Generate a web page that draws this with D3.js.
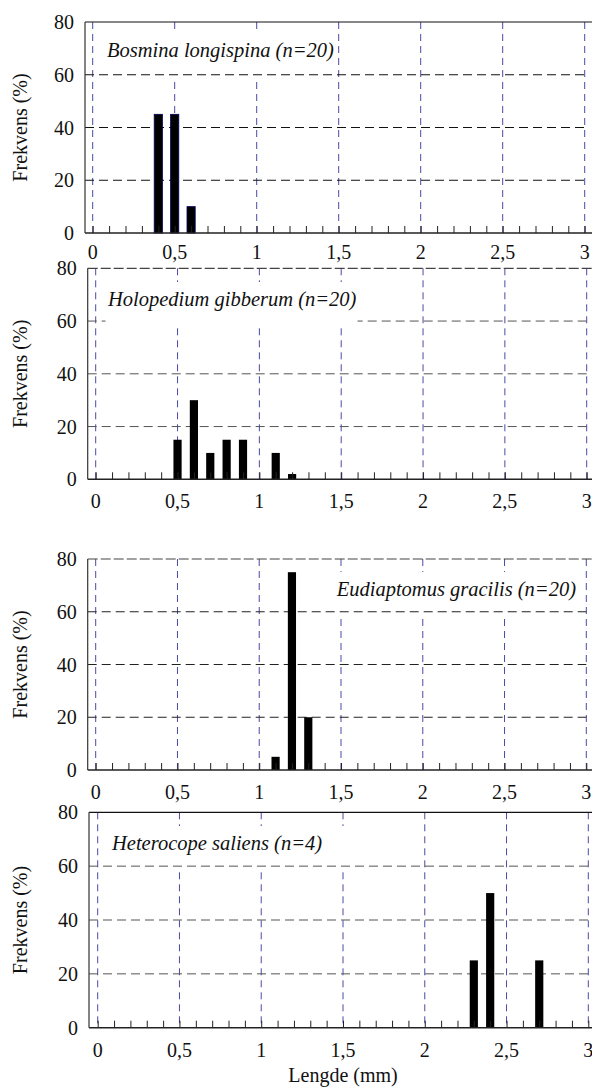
<!DOCTYPE html>
<html>
<head>
<meta charset="utf-8">
<script src="https://cdn.jsdelivr.net/npm/d3@7"></script>
</head>
<body style="margin:0">
<div id="c"></div>
<script>
// Data (length in mm, frequency in %)
const bosminaLen = [0.4, 0.5, 0.6];
const bosminaPct = [45, 45, 10];
const holopediumLen = [0.5, 0.6, 0.7, 0.8, 0.9, 1.1, 1.2];
const holopediumPct = [15, 30, 10, 15, 15, 10, 2];
const eudiaptomusLen = [1.1, 1.2, 1.3];
const eudiaptomusPct = [5, 75, 20];
const heterocopeLen = [2.3, 2.4, 2.7];
const heterocopePct = [25, 50, 25];

const titles = [
  'Bosmina longispina (n=20)',
  'Holopedium gibberum (n=20)',
  'Eudiaptomus gracilis (n=20)',
  'Heterocope saliens (n=4)'
];
const xTicks = [0, 0.5, 1, 1.5, 2, 2.5, 3];
const yTicks = [0, 20, 40, 60, 80];
const yLabel = 'Frekvens (%)';
const xLabel = 'Lengde (mm)';

// Set constants
const WIDTH = 592;
const HEIGHT = 1091;
const BAR_W = 0.05;

// Layout of the four panels (box = white area behind the title, in x units)
const panels = [
  { len: bosminaLen, pct: bosminaPct, top: 22, bottom: 233, axisX: 85, x0: 92.7, x3: 584.7,
    anchor: 'start', tx: 107, ty: 57, box: [0.06, 1.49], topDash: null, hColor: '#111', barStroke: '#000066', boxOverH: false },
  { len: holopediumLen, pct: holopediumPct, top: 268.3, bottom: 479.3, axisX: 87.7, x0: 95.7, x3: 586.7,
    anchor: 'start', tx: 108, ty: 306, box: [0.06, 1.6], topDash: '10,3', hColor: '#555', barStroke: 'none', boxOverH: true },
  { len: eudiaptomusLen, pct: eudiaptomusPct, top: 559, bottom: 770, axisX: 87.7, x0: 95.7, x3: 586.3,
    anchor: 'end', tx: 576, ty: 596, box: [1.4, 2.96], topDash: '10,3', hColor: '#222', barStroke: 'none', boxOverH: false },
  { len: heterocopeLen, pct: heterocopePct, top: 812.3, bottom: 1027.7, axisX: 89, x0: 97.7, x3: 588.3,
    anchor: 'start', tx: 112, ty: 850, box: [0.06, 1.53], topDash: null, hColor: '#555', barStroke: 'none', boxOverH: false }
];

const commaFormat = d => String(d).replace('.', ',');

const svg = d3.select('#c')
              .append('svg')
              .attr('width', WIDTH)
              .attr('height', HEIGHT)
              .attr('font-family', 'Liberation Serif, serif');

// layer for all the texts, kept at the svg root
const labels = [];

panels.forEach(function(p, i) {
  const xScale = d3.scaleLinear().domain([0, 3]).range([p.x0, p.x3]);
  const yScale = d3.scaleLinear().domain([0, 80]).range([p.bottom, p.top]);
  const g = svg.append('g');

  // vertical gridlines (blue, dashed)
  g.selectAll('.vgrid')
   .data(xTicks)
   .enter()
   .append('line')
   .attr('x1', d => xScale(d))
   .attr('x2', d => xScale(d))
   .attr('y1', p.top)
   .attr('y2', p.bottom)
   .attr('stroke', '#4a4aa6')
   .attr('stroke-width', 1)
   .attr('stroke-dasharray', '7,5');

  // horizontal gridlines
  const drawH = function() {
    g.selectAll('.hgrid')
     .data(yTicks.filter(d => d > 0 && d < 80))
     .enter()
     .append('line')
     .attr('class', 'hgrid')
     .attr('x1', p.axisX)
     .attr('x2', xScale(3))
     .attr('y1', d => yScale(d))
     .attr('y2', d => yScale(d))
     .attr('stroke', p.hColor)
     .attr('stroke-width', 1)
     .attr('stroke-dasharray', '9,5');
  };

  if (p.boxOverH) drawH();

  // white box behind the title (hides the gridlines there)
  g.append('rect')
   .attr('x', xScale(p.box[0]))
   .attr('y', p.ty - 24)
   .attr('width', xScale(p.box[1]) - xScale(p.box[0]))
   .attr('height', 46)
   .attr('fill', '#fff');

  if (!p.boxOverH) drawH();

  // top border
  g.append('line')
   .attr('x1', p.axisX)
   .attr('x2', WIDTH)
   .attr('y1', p.top)
   .attr('y2', p.top)
   .attr('stroke', p.topDash ? '#444' : '#111')
   .attr('stroke-width', 1.2)
   .attr('stroke-dasharray', p.topDash);

  // bars
  g.selectAll('.bar')
   .data(p.len.map((d, k) => [d, p.pct[k]]))
   .enter()
   .append('rect')
   .attr('x', d => xScale(d[0] - BAR_W / 2))
   .attr('y', d => yScale(d[1]))
   .attr('width', xScale(BAR_W) - xScale(0))
   .attr('height', d => p.bottom - yScale(d[1]))
   .attr('fill', '#000')
   .attr('stroke', p.barStroke)
   .attr('stroke-width', 0.8);

  // minor ticks every 0.1, pointing up (lines only)
  const tickAxis = d3.axisBottom(xScale)
                     .tickValues(d3.range(0, 3.001, 0.1))
                     .tickSize(-7)
                     .tickFormat('');
  g.append('g')
   .attr('transform', 'translate(0, ' + p.bottom + ')')
   .call(tickAxis)
   .call(a => a.select('.domain').remove())
   .call(a => a.selectAll('text').remove())
   .selectAll('line')
   .attr('stroke', '#222');

  // bottom axis line and left axis line
  g.append('line')
   .attr('x1', p.axisX).attr('x2', WIDTH)
   .attr('y1', p.bottom).attr('y2', p.bottom)
   .attr('stroke', '#222').attr('stroke-width', 1.5);
  g.append('line')
   .attr('x1', p.axisX).attr('x2', p.axisX)
   .attr('y1', p.top).attr('y2', p.bottom)
   .attr('stroke', '#333').attr('stroke-width', 1.2);

  // collect the texts of this panel, placed with the scales
  xTicks.forEach(t => labels.push({
    text: commaFormat(t), x: xScale(t), y: p.bottom + (i === 0 ? 26 : 29), anchor: 'middle', size: 20
  }));
  yTicks.forEach(t => labels.push({
    text: String(t), x: p.axisX - 11, y: yScale(t) + 7, anchor: 'end', size: 20
  }));
  labels.push({ text: titles[i], x: p.tx, y: p.ty, anchor: p.anchor, size: 20.5, italic: true });
  labels.push({ text: yLabel, x: 27, y: (p.top + p.bottom) / 2, anchor: 'middle', size: 20, rotate: true });
  if (i === panels.length - 1) {
    labels.push({ text: xLabel, x: (p.x0 + p.x3) / 2, y: 1082, anchor: 'middle', size: 20 });
  }
});

// all texts in one data join at the svg root
svg.selectAll('text.lbl')
   .data(labels)
   .enter()
   .append('text')
   .attr('class', 'lbl')
   .attr('x', d => d.rotate ? 0 : d.x)
   .attr('y', d => d.rotate ? 0 : d.y)
   .attr('transform', d => d.rotate ? 'translate(' + d.x + ',' + d.y + ') rotate(-90)' : null)
   .attr('text-anchor', d => d.anchor)
   .attr('fill', '#111')
   .style('font-family', d => '"Liberation Serif"')
   .style('font-style', d => d.italic ? 'italic' : 'normal')
   .style('font-size', d => d.size + 'px')
   .text(d => d.text);
</script>
</body>
</html>
